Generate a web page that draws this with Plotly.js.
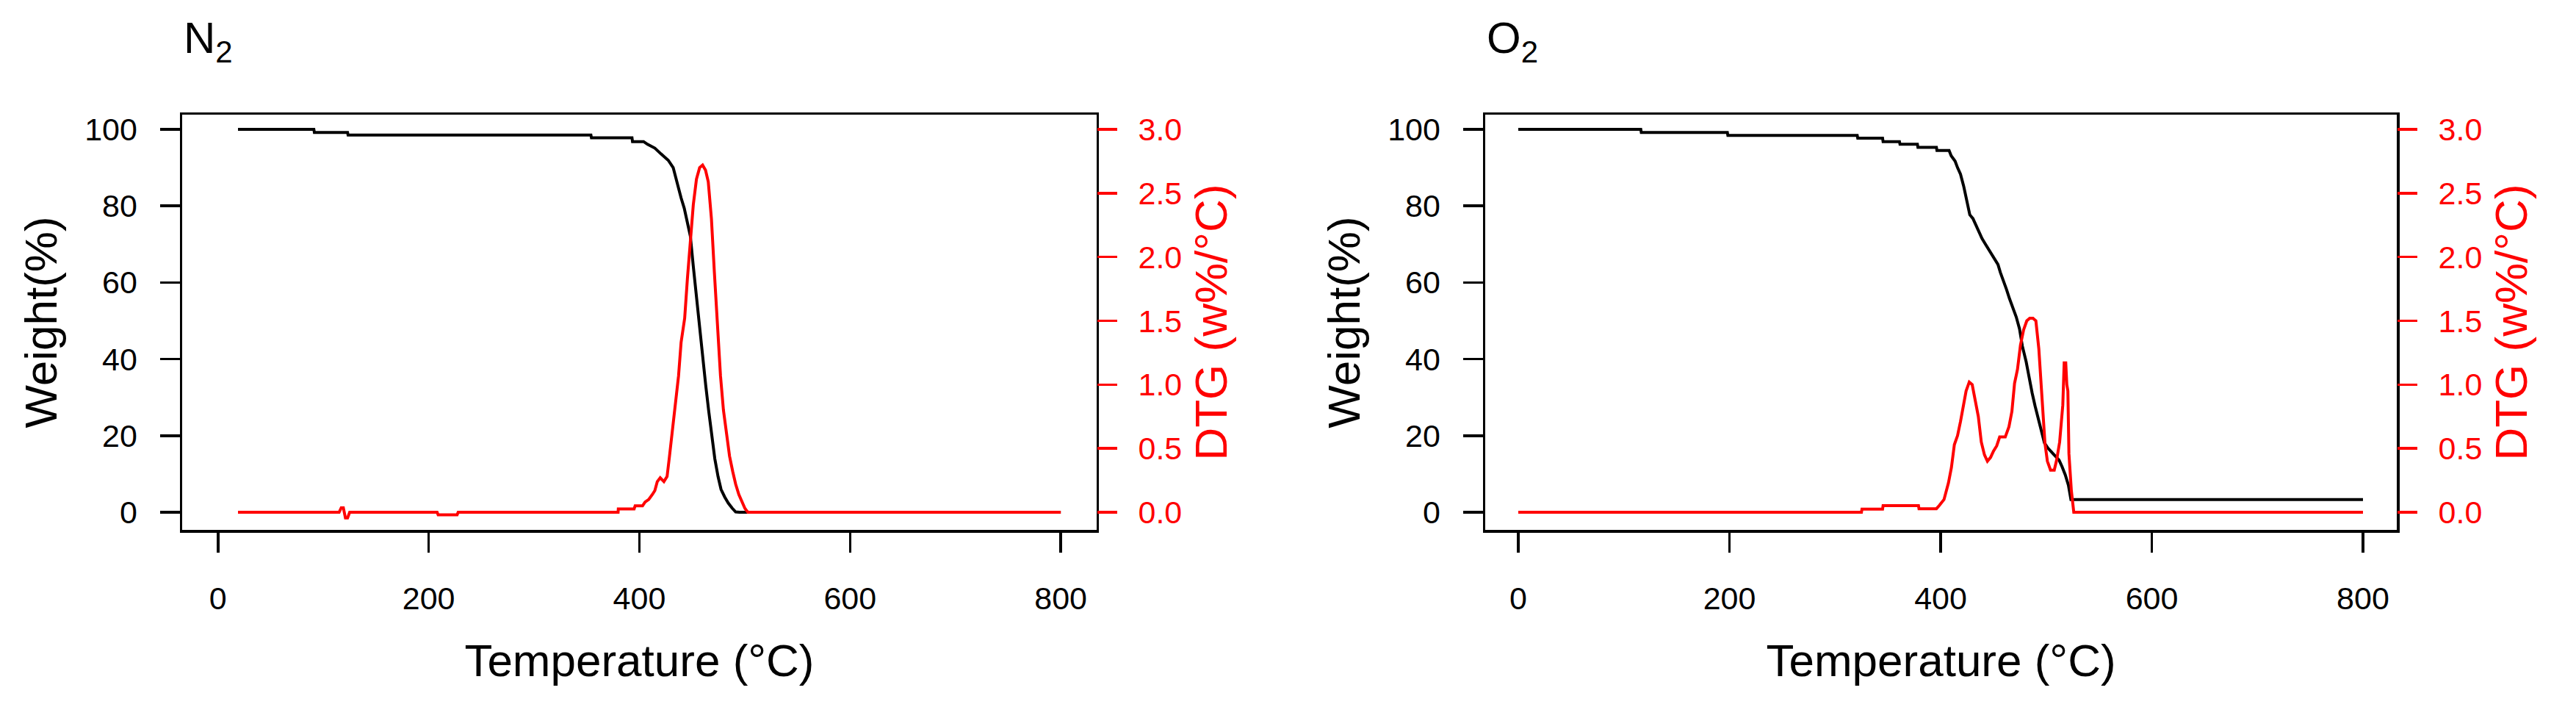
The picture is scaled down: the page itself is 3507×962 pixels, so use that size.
<!DOCTYPE html>
<html>
<head>
<meta charset="utf-8">
<script src="https://cdn.plot.ly/plotly-3.0.1.min.js"></script>
<style>
  html, body { margin: 0; padding: 0; background: #ffffff; }
  #tga { width: 3507px; height: 962px; }
</style>
</head>
<body>
<div id="tga"></div>
<script>
/* TGA / DTG curves under N2 and O2 */

// tick values
const tempTicks = [0, 200, 400, 600, 800];
const weightTicks = [0, 20, 40, 60, 80, 100];
const dtgTicks = [0, 0.5, 1.0, 1.5, 2.0, 2.5, 3.0];

// N2 - weight loss
const n2WeightTemp = [19, 91, 91.5, 123, 123.5, 354, 354.5, 393, 393.5, 404, 407.7, 414.7,
    420.5, 427.5, 432.1, 434.5, 437.2, 439.6, 442.6, 445.6, 448.4, 451.2, 454.2, 457.2,
    460, 463, 465.8, 468.6, 471.6, 474.7, 477.5, 481, 484.4, 488, 491.4, 495, 800];
const n2Weight = [100, 100, 99.2, 99.2, 98.5, 98.5, 97.8, 97.8, 96.8, 96.8, 96.1, 95.1,
    93.6, 91.9, 90.0, 87.3, 84.7, 82.1, 79.4, 75.4, 72.1, 64.2, 56.3, 48.3,
    39.8, 33.1, 26.5, 19.9, 14.0, 9.3, 6.0, 4.0, 2.4, 1.1, 0.1, 0, 0];

// N2 - DTG
const n2DtgTemp = [19, 115, 117, 119, 121, 123, 125, 208, 209, 227, 228, 379.8, 380, 395, 396, 403,
    405.4, 408.9, 412.4, 414.7, 417, 419.8, 423.3, 426.3, 428.6, 431.7, 434, 437.2, 439.6, 443,
    445.6, 448.4, 451.2, 454.2, 457.2, 460, 462.8, 465.4, 468.4, 471.2, 474, 477, 479.8, 482.8,
    485.6, 488.6, 491.4, 494.4, 497.2, 500.2, 503, 800];
const n2Dtg = [0, 0, 0.035, 0.035, -0.045, -0.045, 0, 0, -0.02, -0.02, 0, 0, 0.026, 0.026, 0.05, 0.05,
    0.08, 0.10, 0.14, 0.17, 0.24, 0.27, 0.24, 0.28, 0.44, 0.65, 0.84, 1.07, 1.33, 1.52,
    1.83, 2.16, 2.41, 2.61, 2.70, 2.72, 2.68, 2.59, 2.30, 1.88, 1.46, 1.07, 0.80, 0.63,
    0.44, 0.32, 0.22, 0.14, 0.08, 0.03, 0, 0];

// O2 - weight loss
const o2WeightTemp = [0, 116, 116.5, 198, 198.5, 321, 321.5, 345, 345.5, 361, 361.5, 378, 378.5,
    396, 396.5, 408, 410, 413.7, 416, 418.8, 421.8, 424.6, 427.6, 430.6, 433.4, 436.2, 439.2,
    442, 445, 447.8, 450.8, 454.3, 456.6, 459.4, 462.4, 465.2, 468.2, 471.6, 474.7, 477.4,
    481, 483.7, 486.7, 489.5, 492.5, 495.5, 498.3, 501.8, 505.3, 508.8, 512.2, 515, 518,
    521, 523.4, 800];
const o2Weight = [100, 100, 99.2, 99.2, 98.4, 98.4, 97.7, 97.7, 96.8, 96.8, 96.1, 96.1, 95.3,
    95.3, 94.5, 94.5, 93.1, 91.7, 90.0, 88.3, 85.2, 81.1, 77.7, 76.7, 75.0, 72.9, 71.5,
    70.2, 68.8, 67.4, 66.0, 64.7, 62.6, 60.6, 58.2, 55.8, 53.7, 51.0, 47.9, 43.4,
    39.3, 35.2, 31.1, 27.7, 24.2, 20.8, 18.1, 16.7, 15.7, 14.6, 13.6, 11.9, 9.8,
    7.1, 3.3, 3.3];

// O2 - DTG
const o2DtgTemp = [0, 325, 325.5, 345, 345.5, 379, 379.5, 396, 398.6, 403.2, 407.4, 410.2, 413,
    416, 418.8, 421.3, 424.1, 427.1, 429.9, 432.9, 435.7, 438.5, 441.5, 444.3, 447.3, 450.1,
    453.1, 455.9, 461.2, 464.7, 467.5, 470, 472.8, 475.6, 478.6, 481.6, 484.4, 487.4, 490.2,
    493, 496, 498.8, 501.1, 504.1, 507.6, 509.9, 512.7, 515.7, 517, 518.5, 519.5, 520.5,
    521.5, 523.8, 526.1, 800];
const o2Dtg = [0, 0, 0.024, 0.024, 0.052, 0.052, 0.028, 0.028, 0.052, 0.10, 0.23, 0.35, 0.53,
    0.60, 0.71, 0.81, 0.95, 1.02, 1.00, 0.87, 0.75, 0.55, 0.45, 0.40, 0.43, 0.48,
    0.52, 0.59, 0.59, 0.67, 0.79, 1.01, 1.12, 1.31, 1.43, 1.50, 1.52, 1.52, 1.50,
    1.28, 0.86, 0.54, 0.40, 0.33, 0.33, 0.41, 0.55, 0.84, 1.17, 1.17, 1.0, 0.95,
    0.46, 0.17, 0, 0];

const FONT = 'Liberation Sans, Arial, sans-serif';
const RED = '#ff0000';
const weightRange = [-4.6, 103.84];
const dtgRange = [weightRange[0] * 0.03, weightRange[1] * 0.03];

function xAxis(domain, range, anchor) {
    return {
        domain: domain, range: range, anchor: anchor,
        tickmode: 'array', tickvals: tempTicks,
        ticks: 'outside', ticklen: 27, tickwidth: 3.5, tickcolor: '#000',
        ticklabelstandoff: 26,
        showline: true, mirror: true, linecolor: '#000', linewidth: 3.5,
        showgrid: false, zeroline: false,
        tickfont: { family: FONT, size: 43, color: '#000' },
        title: { text: 'Temperature (°C)', standoff: 40, font: { family: FONT, size: 62, color: '#000' } }
    };
}

function weightAxis(anchor) {
    return {
        anchor: anchor, range: weightRange, domain: [0, 1],
        tickmode: 'array', tickvals: weightTicks,
        ticks: 'outside', ticklen: 27, tickwidth: 3.5, tickcolor: '#000',
        ticklabelstandoff: 22,
        showline: true, mirror: true, linecolor: '#000', linewidth: 3.5,
        showgrid: false, zeroline: false,
        tickfont: { family: FONT, size: 43, color: '#000' },
        title: { text: 'Weight(%)', standoff: 18, font: { family: FONT, size: 62, color: '#000' } }
    };
}

function dtgAxis(anchor, over) {
    return {
        anchor: anchor, overlaying: over, side: 'right', range: dtgRange,
        tickmode: 'array', tickvals: dtgTicks, tickformat: '.1f',
        ticks: 'outside', ticklen: 27, tickwidth: 3.5, tickcolor: RED,
        ticklabelstandoff: 20,
        showline: false, showgrid: false, zeroline: false,
        tickfont: { family: FONT, size: 43, color: RED },
        title: { text: 'DTG (w%/°C)', standoff: 18, font: { family: FONT, size: 62, color: RED } }
    };
}

const traces = [
    { x: n2WeightTemp, y: n2Weight, xaxis: 'x', yaxis: 'y', type: 'scatter', mode: 'lines',
      line: { color: '#000', width: 4 }, name: 'N2 weight' },
    { x: n2DtgTemp, y: n2Dtg, xaxis: 'x', yaxis: 'y2', type: 'scatter', mode: 'lines',
      line: { color: RED, width: 4 }, name: 'N2 DTG' },
    { x: o2WeightTemp, y: o2Weight, xaxis: 'x2', yaxis: 'y3', type: 'scatter', mode: 'lines',
      line: { color: '#000', width: 4 }, name: 'O2 weight' },
    { x: o2DtgTemp, y: o2Dtg, xaxis: 'x2', yaxis: 'y4', type: 'scatter', mode: 'lines',
      line: { color: RED, width: 4 }, name: 'O2 DTG' }
];

const layout = {
    width: 3507, height: 962,
    margin: { l: 248, r: 244, t: 156, b: 241 },
    paper_bgcolor: '#fff', plot_bgcolor: '#fff',
    showlegend: false,
    font: { family: FONT, color: '#000' },
    xaxis: xAxis([0, 0.4129], [-34, 834], 'y'),
    yaxis: weightAxis('x'),
    yaxis2: dtgAxis('x', 'y'),
    xaxis2: xAxis([0.5884, 1], [-31.3, 832], 'y3'),
    yaxis3: weightAxis('x2'),
    yaxis4: dtgAxis('x2', 'y3'),
    annotations: [
        { text: 'N<sub>2</sub>', xref: 'x domain', yref: 'paper', x: 0, y: 1.177,
          xanchor: 'left', yanchor: 'middle', showarrow: false,
          font: { family: FONT, size: 60, color: '#000' } },
        { text: 'O<sub>2</sub>', xref: 'x2 domain', yref: 'paper', x: 0, y: 1.177,
          xanchor: 'left', yanchor: 'middle', showarrow: false,
          font: { family: FONT, size: 60, color: '#000' } }
    ]
};

Plotly.newPlot('tga', traces, layout, { displayModeBar: false, staticPlot: true });
</script>
</body>
</html>
